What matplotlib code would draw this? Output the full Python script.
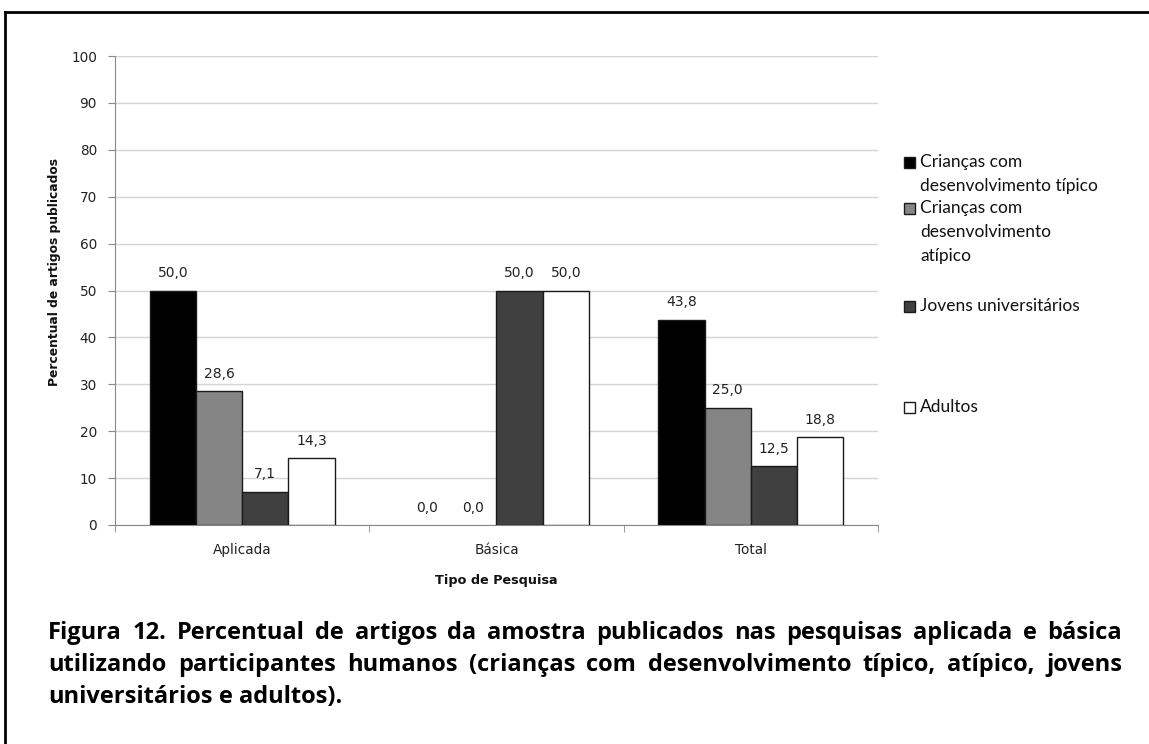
import numpy as np
import matplotlib
matplotlib.use("Agg")
import matplotlib.pyplot as plt
from matplotlib.lines import Line2D
from matplotlib.patches import Rectangle

# Data
categories = ["Aplicada", "Básica", "Total"]
series_names = ["Crianças com\ndesenvolvimento típico",
                "Crianças com\ndesenvolvimento\natípico",
                "Jovens universitários",
                "Adultos"]
tipico = [50.0, 0.0, 43.8]
atipico = [28.6, 0.0, 25.0]
jovens = [7.1, 50.0, 12.5]
adultos = [14.3, 50.0, 18.8]
series_values = [tipico, atipico, jovens, adultos]
colors = ["#000000", "#858585", "#404040", "#ffffff"]

caption_lines = [
    "Figura 12. Percentual de artigos da amostra publicados nas pesquisas aplicada e básica",
    "utilizando participantes humanos (crianças com desenvolvimento típico, atípico, jovens",
    "universitários e adultos).",
]

W, H = 1149, 744
fig = plt.figure(figsize=(W / 100, H / 100), dpi=100)
ax = fig.add_axes([115 / W, 1 - 525 / H, 763 / W, 469 / H])

x = np.arange(len(categories))
w = 1 / 5.5
for i, vals in enumerate(series_values):
    pos = x + (i - 1.5) * w
    ax.bar(pos, vals, width=w, color=colors[i], edgecolor="#1a1a1a",
           linewidth=[1.0 if v > 0 else 0 for v in vals], zorder=3)
    for xp, v in zip(pos, vals):
        ax.text(xp, v + 2.2, f"{v:.1f}".replace(".", ","), ha="center",
                va="bottom", fontsize=10, color="#222222")

ax.set_xlim(-0.5, 2.5)
ax.set_ylim(0, 100)
ax.set_yticks(np.arange(0, 101, 10))
ax.set_xticks(x)
ax.set_xticklabels(categories)
ax.set_xticks(np.arange(-0.5, 2.6, 1), minor=True)
ax.tick_params(axis="x", which="major", length=0, pad=13, labelsize=9.8,
               labelcolor="#222222")
ax.tick_params(axis="x", which="minor", length=5, color="#888888")
ax.tick_params(axis="y", length=5, color="#888888", labelsize=9.8,
               labelcolor="#222222", pad=8)
ax.grid(axis="y", color="#d4d4d4", linewidth=1.0, zorder=0)
ax.set_axisbelow(True)
for s in ["top", "right"]:
    ax.spines[s].set_visible(False)
for s in ["left", "bottom"]:
    ax.spines[s].set_color("#888888")

ax.set_ylabel("Percentual de artigos publicados", fontsize=8.8,
              fontweight="bold", color="#111111")
ax.yaxis.set_label_coords(-54 / 763, (525 - 272) / 469)
ax.set_xlabel("Tipo de Pesquisa", fontsize=9.2, fontweight="bold",
              labelpad=12, color="#111111")

# legend drawn by hand (Excel spacing)
leg_y = [162, 208, 306, 407]
for name, col, yy in zip(series_names, colors, leg_y):
    fig.add_artist(Rectangle((904 / W, 1 - (yy + 6) / H), 11 / W, 11 / H,
                             transform=fig.transFigure, facecolor=col,
                             edgecolor="#1a1a1a", linewidth=1.0))
    for j, part in enumerate(name.split("\n")):
        fig.text(920 / W, 1 - (yy + 24 * j) / H, part, ha="left",
                 va="center", fontsize=12.5, family="Lato", color="#111111")

# border
x0, yt = 5 / W, 1 - 12 / H
fig.add_artist(Line2D([x0, x0], [0, yt], color="black", linewidth=2,
                      transform=fig.transFigure))
fig.add_artist(Line2D([x0, 1], [yt, yt], color="black", linewidth=2,
                      transform=fig.transFigure))

# caption, justified
renderer = fig.canvas.get_renderer()
left, right = 48, 1122
cap_font = dict(fontsize=17, family="Open Sans", fontweight="bold")
cap_y = [639, 671, 703]
sp = fig.text(0, 0, "a a", **cap_font)
sa = fig.text(0, 0, "aa", **cap_font)
space = sp.get_window_extent(renderer).width - sa.get_window_extent(renderer).width
sp.remove()
sa.remove()
for k, (line, yy) in enumerate(zip(caption_lines, cap_y)):
    words = line.split(" ")
    texts = [fig.text(0, 1 - yy / H, wd, ha="left", va="baseline",
                      color="#000000", **cap_font)
             for wd in words]
    widths = [t.get_window_extent(renderer).width for t in texts]
    if k < len(caption_lines) - 1:
        gap = (right - left - sum(widths)) / (len(words) - 1)
    else:
        gap = space
    xx = left
    for t, wd in zip(texts, widths):
        t.set_x(xx / W)
        xx += wd + gap

fig.savefig("out.png", dpi=100)
